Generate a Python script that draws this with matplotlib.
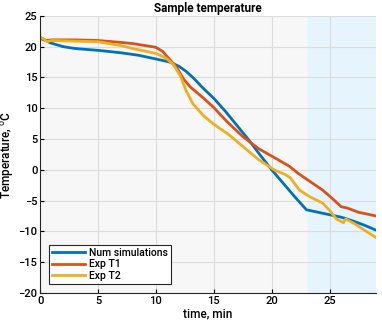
import matplotlib.pyplot as plt
import numpy as np

plt.rcParams['font.family'] = ['Roboto', 'DejaVu Sans']

# time (min) and temperature (C)
t_num = [0, 0.9, 2, 3, 5, 7, 8.5, 10, 11.2, 12, 12.6, 13.3, 14, 15, 16, 17, 18, 19, 20, 21, 22, 23.0, 24, 25, 26, 27, 28, 29]
T_num = [21.5, 20.6, 20.0, 19.7, 19.4, 19.0, 18.6, 18.0, 17.5, 16.8, 16.0, 14.8, 13.4, 11.6, 9.5, 7.2, 4.9, 2.4, 0.0, -2.2, -4.4, -6.5, -6.9, -7.3, -7.7, -8.3, -9.0, -9.8]

t_t1 = [0, 0.5, 1, 3, 5, 6.9, 8, 9, 10, 10.6, 11.2, 11.8, 12.4, 13.0, 14.2, 15, 16.1, 17.5, 18.9, 20.3, 21.5, 22.3, 23.0, 24.4, 25.2, 26.0, 26.5, 27.5, 29]
T_t1 = [21.3, 21.0, 21.1, 21.1, 21.0, 20.7, 20.5, 20.2, 19.9, 19.2, 17.9, 16.6, 14.7, 13.4, 11.5, 10.1, 7.9, 5.4, 3.4, 1.9, 0.6, -0.6, -1.5, -3.3, -4.6, -6.0, -6.2, -6.9, -7.5]

t_t2 = [0, 0.3, 0.6, 1, 3, 5, 6.9, 8, 10, 10.9, 11.5, 12.1, 12.6, 13.2, 14.1, 15, 16.3, 17.5, 18.9, 20.3, 21.2, 21.6, 22.4, 23.3, 24.4, 25.0, 25.6, 26.0, 26.2, 26.4, 27.1, 28, 29]
T_t2 = [21.5, 21.3, 20.8, 21.0, 20.9, 20.8, 20.2, 19.7, 18.9, 18.1, 17.1, 15.3, 12.9, 10.7, 8.8, 7.4, 5.7, 3.8, 1.6, -0.1, -0.8, -1.3, -3.3, -4.4, -5.4, -6.6, -8.0, -8.4, -8.6, -8.0, -8.7, -9.8, -11.0]

fig = plt.figure(figsize=(3.82, 3.24), dpi=100)
ax = fig.add_axes([0.105, 0.096, 0.879, 0.855])
ax.set_facecolor('#f7f7f7')
ax.axvspan(23.1, 29, color='#e6f4fd', zorder=0)

ax.plot(t_num, T_num, color='#0072BD', lw=2, label='Num simulations')
ax.plot(t_t1, T_t1, color='#D95319', lw=2, label='Exp T1')
ax.plot(t_t2, T_t2, color='#EDB120', lw=2, label='Exp T2')

ax.set_xlim(0, 29)
ax.set_ylim(-20, 25)
ax.set_xticks(np.arange(0, 30, 5))
ax.set_yticks(np.arange(-20, 30, 5))
ax.grid(True, color='#dcdcdc', lw=0.8)
ax.set_axisbelow(True)
ax.tick_params(direction='in', length=3, labelsize=8, pad=2)
for lab in ax.get_xticklabels() + ax.get_yticklabels():
    lab.set_fontweight('medium')
for s in ['top', 'right']:
    ax.spines[s].set_visible(False)
for s in ['left', 'bottom']:
    ax.spines[s].set_color('#262626')

ax.set_title('Sample temperature', fontsize=8.5, fontweight='bold', pad=3)
ax.set_xlabel('time, min', fontsize=8.5, fontweight='medium', labelpad=1)
ax.set_ylabel('Temperature, $^{\\mathrm{o}}$C', fontsize=8.5, fontweight='medium', labelpad=2)

leg = ax.legend(loc='lower left', bbox_to_anchor=(0.025, 0.032), borderaxespad=0,
                fontsize=7.5, frameon=True, fancybox=False, edgecolor='#262626',
                framealpha=1, handlelength=3.2, borderpad=0.3, labelspacing=0.15,
                handletextpad=0.4)
leg.get_frame().set_linewidth(0.8)
for txt in leg.get_texts():
    txt.set_fontweight('medium')

fig.savefig('out.png', dpi=100)
